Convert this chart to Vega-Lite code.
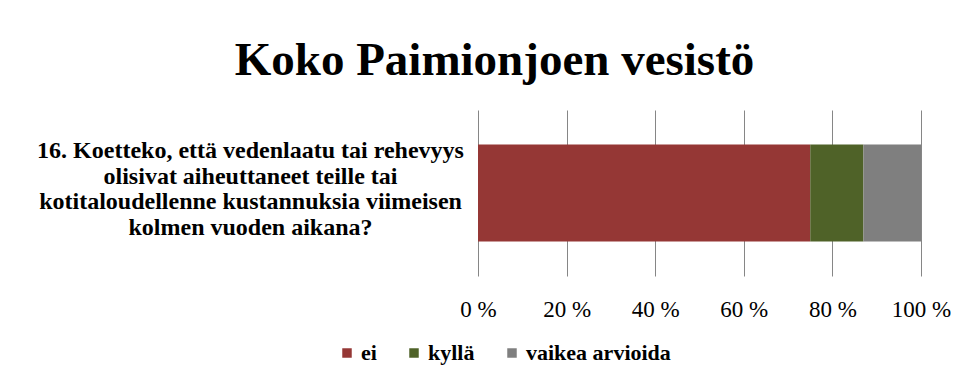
{
  "$schema": "https://vega.github.io/schema/vega-lite/v6.json",
  "autosize": "none",
  "width": 443,
  "height": 166,
  "padding": {"left": 478, "top": 110, "right": 47, "bottom": 113},
  "background": "white",
  "title": {
    "text": "Koko Paimionjoen vesistö",
    "font": "Liberation Serif",
    "fontSize": 47,
    "fontWeight": "bold",
    "color": "black",
    "anchor": "middle",
    "dx": -205,
    "offset": 25
  },
  "data": {
    "values": [
      {"q": "16. Koetteko, että vedenlaatu tai rehevyys|olisivat aiheuttaneet teille tai|kotitaloudellenne kustannuksia viimeisen|kolmen vuoden aikana?", "vastaus": "ei", "osuus": 75, "o": 1},
      {"q": "16. Koetteko, että vedenlaatu tai rehevyys|olisivat aiheuttaneet teille tai|kotitaloudellenne kustannuksia viimeisen|kolmen vuoden aikana?", "vastaus": "kyllä", "osuus": 12, "o": 2},
      {"q": "16. Koetteko, että vedenlaatu tai rehevyys|olisivat aiheuttaneet teille tai|kotitaloudellenne kustannuksia viimeisen|kolmen vuoden aikana?", "vastaus": "vaikea arvioida", "osuus": 13, "o": 3}
    ]
  },
  "mark": {"type": "bar"},
  "encoding": {
    "y": {
      "field": "q",
      "type": "nominal",
      "scale": {"paddingOuter": 0.356, "paddingInner": 0},
      "axis": {
        "title": null,
        "ticks": false,
        "domain": false,
        "labelExpr": "split(datum.label, '|')",
        "labelAlign": "center",
        "labelBaseline": "middle",
        "labelOffset": -42,
        "labelLineHeight": 25.5,
        "labelFontSize": 24,
        "labelFontWeight": "bold",
        "labelFont": "Liberation Serif",
        "labelColor": "black",
        "labelPadding": 228,
        "labelLimit": 600
      }
    },
    "x": {
      "field": "osuus",
      "type": "quantitative",
      "stack": "normalize",
      "scale": {"domain": [0, 1]},
      "axis": {
        "title": null,
        "values": [0, 0.2, 0.4, 0.6, 0.8, 1],
        "labelExpr": "round(datum.value * 100) + ' %'",
        "grid": true,
        "gridColor": "#868686",
        "gridWidth": 1,
        "ticks": false,
        "domain": false,
        "labelFontSize": 23,
        "labelFont": "Liberation Serif",
        "labelColor": "black",
        "labelPadding": 22,
        "labelFlush": false
      }
    },
    "color": {
      "field": "vastaus",
      "type": "nominal",
      "scale": {
        "domain": ["ei", "kyllä", "vaikea arvioida"],
        "range": ["#953735", "#4F6228", "#7F7F7F"]
      },
      "legend": {
        "title": null,
        "orient": "none",
        "direction": "horizontal",
        "legendX": -142,
        "legendY": 232,
        "symbolType": "square",
        "symbolSize": 90,
        "symbolStrokeWidth": 0,
        "symbolOpacity": 1,
        "labelFontSize": 22,
        "labelFont": "Liberation Serif",
        "labelFontWeight": "bold",
        "labelColor": "black",
        "labelOffset": 3,
        "columnPadding": 26
      }
    },
    "order": {"field": "o", "type": "quantitative"}
  },
  "config": {
    "font": "Liberation Serif",
    "view": {"stroke": null},
    "legend": {"labelFont": "Liberation Serif"},
    "style": {"guide-label": {"font": "Liberation Serif"}}
  }
}
